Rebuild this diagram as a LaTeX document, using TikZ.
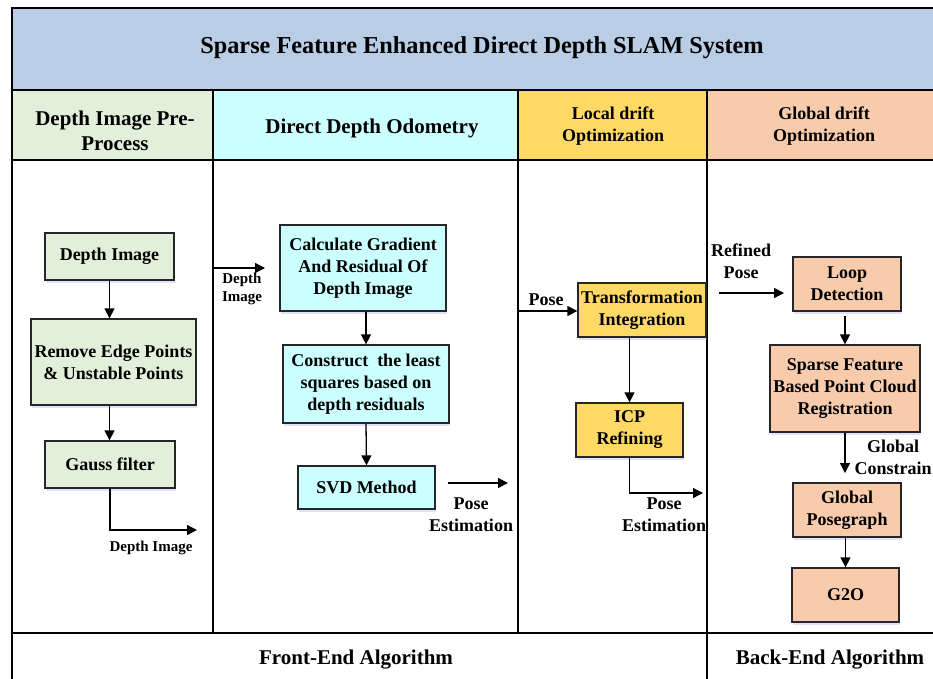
\documentclass[tikz,border=0pt]{standalone}
\usepackage{fontspec}
\setmainfont{Liberation Serif}
\usetikzlibrary{arrows.meta,shadows}

\definecolor{titleblue}{HTML}{B9CDE5}
\definecolor{pregreen}{HTML}{E2EFDA}
\definecolor{odocyan}{HTML}{CCFFFF}
\definecolor{localyel}{HTML}{FFD966}
\definecolor{globpeach}{HTML}{F8CBAD}

\begin{document}
\begin{tikzpicture}[x=1pt,y=-1pt,
  frame/.style={line width=1.8pt, draw=black},
  box/.style={draw=black!85, line width=1.3pt, align=center, inner sep=0pt,
    font=\fontsize{18}{22}\selectfont\bfseries,
    drop shadow={shadow xshift=1pt, shadow yshift=-2.5pt, fill=blue!35, opacity=0.35}},
  gbox/.style={box, fill=pregreen},
  cbox/.style={box, fill=odocyan},
  ybox/.style={box, fill=localyel},
  pbox/.style={box, fill=globpeach},
  arr/.style={-{Triangle[length=10pt,width=10pt]}, line width=1.3pt},
  lbl/.style={align=center, inner sep=0pt, font=\fontsize{18}{22}\selectfont\bfseries},
  slbl/.style={align=center, inner sep=0pt, font=\fontsize{15}{18}\selectfont\bfseries},
  head/.style={align=center, inner sep=0pt, font=\fontsize{21}{25}\selectfont\bfseries},
  shead/.style={align=center, inner sep=0pt, font=\fontsize{18}{22}\selectfont\bfseries}]

\useasboundingbox (0,0) rectangle (933,679);
\clip (0,0) rectangle (933,679);

% title band and column headers
\fill[titleblue] (12,8) rectangle (945,90);
\fill[pregreen]  (12,90) rectangle (213,160);
\fill[odocyan]   (213,90) rectangle (518,160);
\fill[localyel]  (518,90) rectangle (707,160);
\fill[globpeach] (707,90) rectangle (945,160);

% table rules
\draw[frame] (12,690) -- (12,8) -- (945,8);
\draw[frame] (12,90) -- (945,90);
\draw[frame] (12,160) -- (945,160);
\draw[frame] (12,633) -- (945,633);
\draw[frame] (213,90) -- (213,633);
\draw[frame] (518,90) -- (518,633);
\draw[frame] (707,90) -- (707,690);

\node[font=\fontsize{24.3}{28}\selectfont\bfseries] (title) at (482,48) {Sparse Feature Enhanced Direct Depth SLAM System};
\node[head]  (h1) at (115,131) {Depth Image Pre-\\Process};
\node[head]  (h2) at (372,128) {Direct Depth Odometry};
\node[shead] (h3) at (613,126) {Local drift\\Optimization};
\node[shead] (h4) at (824,126) {Global drift\\Optimization};
\node[head]  (f1) at (356,660) {Front-End Algorithm};
\node[head]  (f2) at (830,660) {Back-End Algorithm};

% depth image pre-process
\node[gbox, minimum width=129, minimum height=47] (di) at (109.5,256.5) {Depth Image};
\node[gbox, minimum width=165, minimum height=86] (rm) at (113.5,362) {Remove Edge Points\\\& Unstable Points};
\node[gbox, minimum width=130, minimum height=47] (gf) at (110,464.5) {Gauss filter};
\draw[arr] (di.south) -- (di.south |- rm.north);
\draw[arr] (di.south |- rm.south) -- (di.south |- gf.north);
\coordinate (gfend) at (197,530);
\draw[arr] (gf.south) |- (gfend);
\node[slbl] (gflbl) at (151,548) {Depth Image};

% direct depth odometry
\coordinate (dia) at (213,268);
\coordinate (dib) at (265,268);
\draw[arr] (dia) -- (dib);
\node[slbl] (dilbl) at (242,289) {Depth\\Image};
\node[cbox, minimum width=166, minimum height=86] (cg) at (363,268) {Calculate Gradient\\And Residual Of\\Depth Image};
\node[cbox, minimum width=166, minimum height=78] (cl) at (366,384) {Construct\ \ the least\\squares based on\\depth residuals};
\node[cbox, minimum width=137, minimum height=43] (svd) at (366.5,487.5) {SVD Method};
\draw[arr] (cg.south -| cl.north) -- (cl.north);
\draw[arr] (cl.south) -- (svd.north);
\coordinate (pea) at (448,483);
\coordinate (peb) at (508,483);
\draw[arr] (pea) -- (peb);
\node[lbl] (pelbl) at (471,515) {Pose\\Estimation};

% local drift optimization
\node[ybox, minimum width=128, minimum height=54] (ti) at (642,310) {Transformation\\Integration};
\node[ybox, minimum width=107, minimum height=54] (icp) at (629.5,430) {ICP\\Refining};
\coordinate (posea) at (518,311);
\draw[arr] (posea) -- (posea -| ti.west);
\node[lbl] (poselbl) at (546,300) {Pose};
\draw[arr] (icp.north |- ti.south) -- (icp.north);
\coordinate (icpend) at (703,493);
\draw[arr] (icp.south) |- (icpend);
\node[lbl] (pe2lbl) at (664,515) {Pose\\Estimation};

% global drift optimization
\node[pbox, minimum width=108, minimum height=54] (loop) at (847,284) {Loop\\Detection};
\node[pbox, minimum width=150, minimum height=87] (sf) at (845,388.5) {Sparse Feature\\Based Point Cloud\\Registration};
\node[pbox, minimum width=108, minimum height=54] (gp) at (847,510) {Global\\Posegraph};
\node[pbox, minimum width=107, minimum height=54] (g2o) at (845.5,595) {G2O};
\coordinate (rpa) at (719,293);
\coordinate (rpb) at (784,293);
\draw[arr] (rpa) -- (rpb);
\node[lbl] (rplbl) at (741,261) {Refined\\Pose};
\draw[arr] ([yshift=-4pt]loop.south -| sf.north) -- (sf.north);
\coordinate (gcend) at (845,473);
\draw[arr] (sf.south) -- (gcend);
\node[lbl] (gclbl) at (893,457) {Global\\Constrain};
\draw[arr] (gp.south -| g2o.north) -- (g2o.north);

\end{tikzpicture}
\end{document}
